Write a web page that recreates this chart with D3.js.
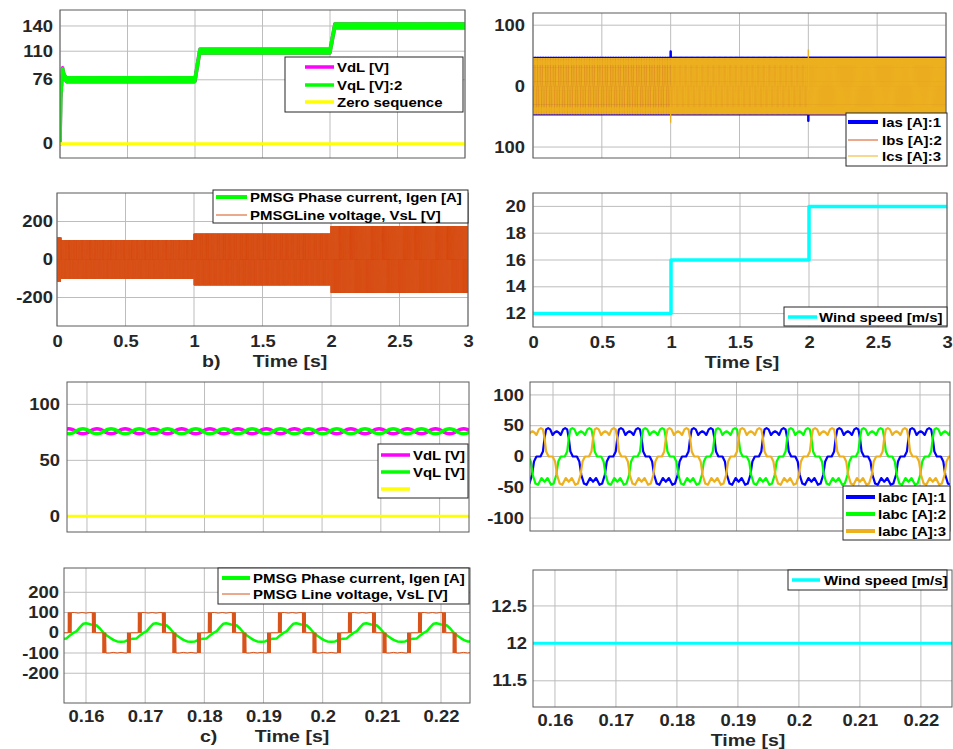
<!DOCTYPE html>
<html lang="en">

<head>
    <meta charset="utf-8">
    <title>PMSG waveforms</title>
    <script src="https://d3js.org/d3.v7.min.js"></script>
    <style>
        body {
            margin: 0;
            background: #fff;
        }

        svg {
            display: block;
            font-family: "Liberation Sans", Arial, sans-serif;
            font-weight: bold;
        }
    </style>
</head>

<body>
    <div id="chart"></div>

    <script>
        // ---------- values ----------

        // time ticks (s)
        const secTicks = [0, 0.5, 1, 1.5, 2, 2.5, 3];
        const zoomTicks = [0.16, 0.17, 0.18, 0.19, 0.2, 0.21, 0.22];

        // y ticks per panel
        const aTicks = [0, 76, 110, 140];
        const bTicks = [-100, 0, 100];
        const bTickLabels = ['100', '0', '100'];
        const cTicks = [-200, 0, 200];
        const dTicks = [12, 14, 16, 18, 20];
        const eTicks = [0, 50, 100];
        const fTicks = [-100, -50, 0, 50, 100];
        const gTicks = [-200, -100, 0, 100, 200];
        const hTicks = [11.5, 12, 12.5];

        // wind speed steps
        const stepStart = [0, 1, 2];
        const stepEnd = [1, 2, 3];
        const windSpeed = [12, 16, 20];
        const stepPeriod = [0.0118, 0.00885, 0.00708];   // electrical period in each step (s)

        // mean of VdL / VqL in a) (s, V)
        const vqlTimes = [0, 0.006, 0.018, 0.03, 0.05, 1.0, 1.035, 2.0, 2.035, 3.0];
        const vqlMean = [0, 55, 89, 80, 76, 76, 110, 110, 140, 140];
        const zeroSeq = 0;

        // one ripple cycle of VdL about its mean (deg from crest, V); VqL runs opposite
        const rippleDeg = [0, 45, 90, 135, 180, 225, 270, 315, 360];
        const rippleVal = [2.2, 1.6, 0, -1.6, -2.2, -1.6, 0, 1.6, 2.2];
        const ripplePeriod = 0.0048;
        const rippleCrest = 0.1569;
        const dqMean = 76;

        // one cycle of Ia (deg from the positive lobe centre, A); Ib, Ic lag by 120 and 240 deg
        const iabcDeg = [-180, -165, -148, -135, -122, -112, -100, -80, -68, -60, -52, -42, -32, -20, -10, 0,
            10, 20, 32, 42, 52, 60, 68, 80, 100, 112, 122, 135, 148, 165, 180];
        const iabcVal = [-41, -35, -46, -44, -30, -8, 0, 0, 8, 30, 44, 46, 44, 35, 39, 41,
            39, 35, 44, 46, 44, 30, 8, 0, 0, -8, -30, -44, -46, -35, -41];
        const iabcPeriod = 0.0119;
        const iaCentre = 0.1606;
        const iasSpikes = [[1.0, 57], [2.0, -57]];
        const icsSpikes = [[1.0, -60], [2.0, 60]];

        // one cycle of the PMSG phase current (deg from crest, A)
        const igenDeg = [-180, -160, -140, -120, -100, -83, -65, -48, -31, -14, 0, 12, 25, 40, 55, 73, 90, 107, 124, 141, 160, 180];
        const igenVal = [-44, -43, -34, -30, -28, -13, 0, 8, 28, 45, 47, 45, 41, 40, 36, 20, 0, -13, -25, -35, -43, -44];
        const igenPeriod = 0.01184;
        const igenCrest = 0.16;

        // one cycle of the PMSG line voltage (deg from current crest, per unit of step amplitude)
        // the switching bursts at each block edge are listed point by point
        const vslDeg = [-92, -91, -89, -87, -85, -83, -81, -79, -77, -75,
            -60, -40, -20, 0, 20, 32,
            33, 35, 37, 39, 41, 43, 45, 47, 49, 50,
            86, 87, 89, 91, 93, 95, 97, 99, 101, 103,
            120, 140, 160, 180, 200, 212,
            213, 215, 217, 219, 221, 223, 225, 227, 229, 230,
            268];
        const vslVal = [0, 1, 0, 1, 0, 1, 0, 1, 0, 1,
            1, 0.97, 1, 0.97, 1, 1,
            0, 1, 0, 1, 0, 1, 0, 1, 0, 0,
            0, -1, 0, -1, 0, -1, 0, -1, 0, -1,
            -1, -0.97, -1, -0.97, -1, -1,
            0, -1, 0, -1, 0, -1, 0, -1, 0, 0,
            0];
        const vslAmp = [100, 135, 175];
        const vslStartAmp = 115, vslStartEnd = 0.03;

        // ---------- drawing ----------

        const W = 953, H = 749;
        const SX = 1.15;   // lettering in the figure is stretched sideways
        const INK = '#262626';

        const svg = d3.select('#chart').append('svg').attr('width', W).attr('height', H);
        svg.append('rect').attr('width', W).attr('height', H).attr('fill', '#fff');

        // repeat one measured cycle between t0 and t1
        function tile(deg, val, t0, t1, period, anchor, scale, offset) {
            const pts = [];
            const d0 = deg[0] / 360 * period;
            let k = Math.floor((t0 - anchor - d0) / period) - 1;
            while (true) {
                const base = anchor + k * period;
                if (base + d0 > t1) break;
                for (let i = 0; i < deg.length - 1; i++) {
                    const t = base + deg[i] / 360 * period;
                    if (t >= t0 && t <= t1) pts.push([t, offset + scale * val[i]]);
                }
                k++;
            }
            return pts;
        }

        function label(x, y, text, size, anchor, fill) {
            svg.append('text')
                .attr('transform', `translate(${x},${y}) scale(${SX},1)`)
                .attr('text-anchor', anchor)
                .attr('font-size', size)
                .attr('fill', fill || INK)
                .text(text);
        }

        function makePanel(p) {
            const w = p.right - p.left, h = p.bottom - p.top;
            const g = svg.append('g').attr('transform', `translate(${p.left},${p.top})`);
            const x = d3.scaleLinear().domain(p.xDomain).range([0, w]);
            const y = d3.scaleLinear().domain(p.yDomain).range([h, 0]);

            g.append('clipPath').attr('id', 'clip-' + p.name)
                .append('rect').attr('width', w).attr('height', h);

            g.append('g').selectAll('line').data(p.xTicks).join('line')
                .attr('x1', d => x(d)).attr('x2', d => x(d))
                .attr('y1', 0).attr('y2', h)
                .attr('stroke', '#bdbdbd');
            g.append('g').selectAll('line').data(p.yTicks).join('line')
                .attr('x1', 0).attr('x2', w)
                .attr('y1', d => y(d)).attr('y2', d => y(d))
                .attr('stroke', '#bdbdbd');

            const plot = g.append('g').attr('clip-path', `url(#clip-${p.name})`);

            g.append('rect').attr('width', w).attr('height', h)
                .attr('fill', 'none').attr('stroke', '#5a5a5a');

            const yAxis = g.append('g').call(d3.axisLeft(y)
                .tickValues(p.yTicks)
                .tickSize(0)
                .tickFormat((d, i) => p.yLabels ? p.yLabels[i] : String(d)));
            yAxis.select('.domain').remove();
            yAxis.selectAll('text')
                .attr('x', -p.padY / SX)
                .attr('transform', `scale(${SX},1)`)
                .attr('font-size', 16)
                .attr('font-family', null)
                .attr('fill', INK);

            if (p.padX) {
                const xAxis = g.append('g').attr('transform', `translate(0,${h})`)
                    .call(d3.axisBottom(x).tickValues(p.xTicks).tickSize(0).tickPadding(p.padX)
                        .tickFormat(d => String(d)));
                xAxis.select('.domain').remove();
                xAxis.selectAll('text')
                    .attr('transform', `scale(${SX},1)`)
                    .attr('font-size', 16)
                    .attr('font-family', null)
                    .attr('fill', INK);
            }
            return { plot, x, y };
        }

        function drawLine(P, pts, color, width, curve) {
            P.plot.append('path').datum(pts)
                .attr('fill', 'none')
                .attr('stroke', color)
                .attr('stroke-width', width)
                .attr('stroke-linejoin', 'round')
                .attr('d', d3.line()
                    .x(d => P.x(d[0]))
                    .y(d => P.y(d[1]))
                    .curve(curve || d3.curveLinear));
        }

        function legend(L) {
            const g = svg.append('g');
            g.append('rect')
                .attr('x', L.box[0]).attr('y', L.box[1])
                .attr('width', L.box[2]).attr('height', L.box[3])
                .attr('fill', '#fff').attr('stroke', INK);
            L.rows.forEach((r, i) => {
                g.append('line')
                    .attr('x1', L.lx[0]).attr('x2', L.lx[1])
                    .attr('y1', L.ys[i]).attr('y2', L.ys[i])
                    .attr('stroke', r.color).attr('stroke-width', r.width);
                label(L.tx, L.ys[i] + 4.6, r.text, 13, 'start', '#000');
            });
        }

        const MAG = '#ff00ff', GRN = '#00ff00', YEL = '#ffff00', CYA = '#00ffff';
        const BLU = '#0000ff', RED = '#d95319', ORA = '#edb120';

        // ---- a) VdL / VqL / zero sequence, 0..3 s
        const A = makePanel({ name: 'a', left: 60, right: 465, top: 10, bottom: 158, xDomain: [0, 3], yDomain: [-17, 159], xTicks: secTicks, yTicks: aTicks, padY: 7 });
        const meanAt = d3.scaleLinear().domain(vqlTimes).range(vqlMean).clamp(true);
        const rippleA = tile(rippleDeg, rippleVal, 0, 3, ripplePeriod, 0, 1, 0);
        drawLine(A, rippleA.map(d => [d[0], meanAt(d[0]) + d[1]]), MAG, 3.5);
        drawLine(A, rippleA.map(d => [d[0], meanAt(d[0]) - d[1]]), GRN, 3.5);
        drawLine(A, [[0, zeroSeq], [3, zeroSeq]], YEL, 3);
        legend({
            box: [285, 57, 178, 55], lx: [305, 334], tx: 337, ys: [67, 85, 102],
            rows: [{ text: 'VdL [V]', color: MAG, width: 3.5 }, { text: 'VqL [V]:2', color: GRN, width: 3.5 }, { text: 'Zero sequence', color: YEL, width: 3.5 }]
        });

        // ---- top right: Ias / Ibs / Ics, 0..3 s
        const B = makePanel({ name: 'b', left: 533, right: 946, top: 13, bottom: 158, xDomain: [0, 3], yDomain: [-118, 120], xTicks: secTicks, yTicks: bTicks, yLabels: bTickLabels, padY: 8 });
        function phaseSeries(shift, spikes) {
            let pts = [];
            stepStart.forEach((s, i) => {
                const T = stepPeriod[i];
                const anchor = i === 0 ? iaCentre : s;
                pts = pts.concat(tile(iabcDeg, iabcVal, s, stepEnd[i], T, anchor + shift * T, 1, 0));
            });
            return pts.concat(spikes).sort((a, b) => a[0] - b[0]);
        }
        drawLine(B, phaseSeries(0, iasSpikes), BLU, 2.5);
        drawLine(B, phaseSeries(1 / 3, []), RED, 1);
        drawLine(B, phaseSeries(2 / 3, icsSpikes), ORA, 1);
        legend({
            box: [846, 113, 101, 53], lx: [848, 878], tx: 882, ys: [122, 140, 156],
            rows: [{ text: 'Ias [A]:1', color: BLU, width: 4 }, { text: 'Ibs [A]:2', color: RED, width: 1 }, { text: 'Ics [A]:3', color: ORA, width: 1 }]
        });

        // ---- b) PMSG phase current and line voltage, 0..3 s
        const C = makePanel({ name: 'c', left: 57, right: 468, top: 193, bottom: 326, xDomain: [0, 3], yDomain: [-350, 350], xTicks: secTicks, yTicks: cTicks, padY: 4, padX: 10 });
        let igenC = [], vslC = [];
        stepStart.forEach((s, i) => {
            const T = stepPeriod[i];
            const anchor = i === 0 ? igenCrest : s;
            igenC = igenC.concat(tile(igenDeg, igenVal, s, stepEnd[i], T, anchor, 1, 0));
            if (i === 0) {
                vslC = vslC.concat(tile(vslDeg, vslVal, s, vslStartEnd, T, anchor, vslStartAmp, 0));
                vslC = vslC.concat(tile(vslDeg, vslVal, vslStartEnd, stepEnd[i], T, anchor, vslAmp[i], 0));
            } else {
                vslC = vslC.concat(tile(vslDeg, vslVal, s, stepEnd[i], T, anchor, vslAmp[i], 0));
            }
        });
        drawLine(C, igenC, GRN, 2.5);
        drawLine(C, vslC, RED, 0.6);
        legend({
            box: [213, 190, 255, 33], lx: [216, 247], tx: 250, ys: [197, 215],
            rows: [{ text: 'PMSG Phase current, Igen [A]', color: GRN, width: 4 }, { text: 'PMSGLine voltage, VsL [V]', color: RED, width: 1 }]
        });
        label(202, 367, 'b)', 17, 'start');
        label(290, 367, 'Time [s]', 17, 'middle');

        // ---- wind speed, 0..3 s
        const D = makePanel({ name: 'd', left: 533, right: 947, top: 193, bottom: 327, xDomain: [0, 3], yDomain: [11, 21], xTicks: secTicks, yTicks: dTicks, padY: 7, padX: 10 });
        const windPts = [];
        stepStart.forEach((s, i) => { windPts.push([s, windSpeed[i]], [stepEnd[i], windSpeed[i]]); });
        drawLine(D, windPts, CYA, 3.5);
        legend({
            box: [784, 307, 163, 19], lx: [788, 817], tx: 819, ys: [317],
            rows: [{ text: 'Wind speed [m/s]', color: CYA, width: 3.5 }]
        });
        label(742, 368, 'Time [s]', 17, 'middle');

        // ---- c) VdL / VqL zoomed
        const E = makePanel({ name: 'e', left: 67, right: 469, top: 382, bottom: 532, xDomain: [0.1566, 0.2250], yDomain: [-14, 120], xTicks: zoomTicks, yTicks: eTicks, padY: 7 });
        const rippleE = tile(rippleDeg, rippleVal, 0.150, 0.232, ripplePeriod, rippleCrest, 1, 0);
        drawLine(E, rippleE.map(d => [d[0], dqMean + d[1]]), MAG, 3.5, d3.curveCatmullRom);
        drawLine(E, rippleE.map(d => [d[0], dqMean - d[1]]), GRN, 3.5, d3.curveCatmullRom);
        drawLine(E, [[0.15, zeroSeq], [0.23, zeroSeq]], YEL, 3);
        legend({
            box: [378, 444, 90, 54], lx: [381, 410], tx: 413, ys: [455, 472, 489],
            rows: [{ text: 'VdL [V]', color: MAG, width: 3.5 }, { text: 'VqL [V]', color: GRN, width: 3.5 }, { text: '', color: YEL, width: 3.5 }]
        });

        // ---- Iabc zoomed
        const F = makePanel({ name: 'f', left: 530, right: 950, top: 382, bottom: 531, xDomain: [0.15624, 0.2249], yDomain: [-121, 121], xTicks: zoomTicks, yTicks: fTicks, padY: 6 });
        [[0, BLU], [1 / 3, GRN], [2 / 3, ORA]].forEach(([sh, col]) => {
            drawLine(F, tile(iabcDeg, iabcVal, 0.150, 0.232, iabcPeriod, iaCentre + sh * iabcPeriod, 1, 0), col, 2.2);
        });
        legend({
            box: [843, 486, 107, 54], lx: [846, 875], tx: 878, ys: [497, 514, 531],
            rows: [{ text: 'Iabc [A]:1', color: BLU, width: 4 }, { text: 'Iabc [A]:2', color: GRN, width: 4 }, { text: 'Iabc [A]:3', color: ORA, width: 4 }]
        });

        // ---- c) PMSG current and line voltage zoomed
        const G = makePanel({ name: 'g', left: 64, right: 470, top: 568, bottom: 703, xDomain: [0.15628, 0.2249], yDomain: [-347, 320], xTicks: zoomTicks, yTicks: gTicks, padY: 5, padX: 8 });
        drawLine(G, tile(igenDeg, igenVal, 0.150, 0.232, igenPeriod, igenCrest, 1, 0), GRN, 2.5);
        drawLine(G, tile(vslDeg, vslVal, 0.150, 0.232, igenPeriod, igenCrest, vslAmp[0], 0), RED, 1);
        legend({
            box: [218, 568, 251, 36], lx: [222, 250], tx: 253, ys: [578, 594],
            rows: [{ text: 'PMSG Phase current, Igen [A]', color: GRN, width: 4 }, { text: 'PMSG Line voltage, VsL [V]', color: RED, width: 1 }]
        });
        label(200, 742, 'c)', 17, 'start');
        label(292, 742, 'Time [s]', 17, 'middle');

        // ---- wind speed zoomed
        const Hp = makePanel({ name: 'h', left: 533, right: 952, top: 570, bottom: 707, xDomain: [0.1564, 0.2251], yDomain: [11.15, 12.98], xTicks: zoomTicks, yTicks: hTicks, padY: 6, padX: 8 });
        drawLine(Hp, [[0.15, windSpeed[0]], [0.23, windSpeed[0]]], CYA, 3);
        legend({
            box: [788, 570, 159, 20], lx: [792, 820], tx: 824, ys: [580],
            rows: [{ text: 'Wind speed [m/s]', color: CYA, width: 3.5 }]
        });
        label(748, 746, 'Time [s]', 17, 'middle');
    </script>
</body>

</html>
